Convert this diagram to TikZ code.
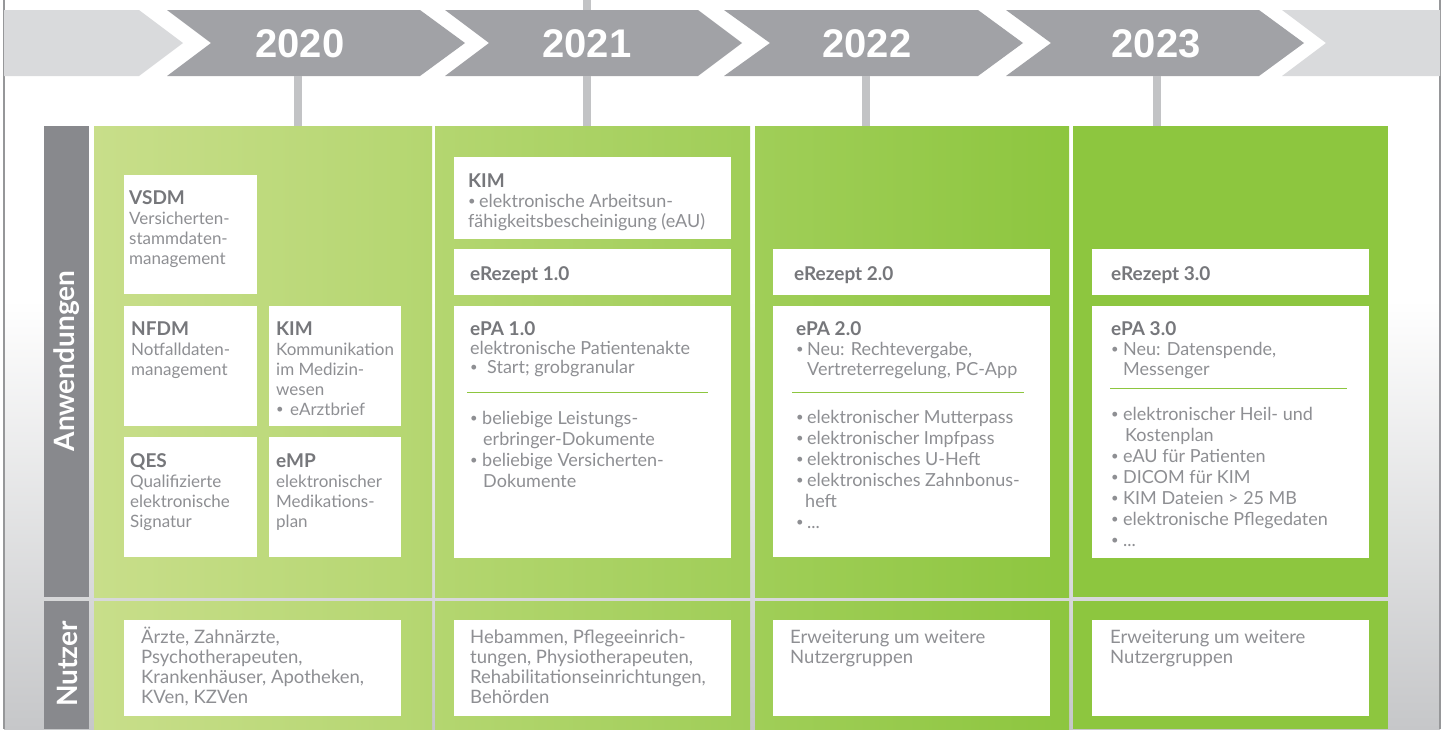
\documentclass[tikz,border=0pt]{standalone}
\usepackage{fontspec}
\setmainfont{Lato}
\newfontfamily\yearfont{Liberation Sans}
\definecolor{chev}{RGB}{161,162,166}
\definecolor{chevlight}{RGB}{217,218,220}
\definecolor{bargrey}{RGB}{136,137,141}
\definecolor{conngrey}{RGB}{194,195,197}
\definecolor{txtgrey}{RGB}{142,143,147}
\definecolor{titlegrey}{RGB}{118,119,123}
\definecolor{linegreen}{RGB}{141,198,63}
\definecolor{bggrey}{RGB}{198,199,201}
\definecolor{edgegrey}{RGB}{150,151,153}
\definecolor{gA}{RGB}{200,222,138}
\definecolor{gB}{RGB}{180,214,112}
\definecolor{gC}{RGB}{160,206,88}
\definecolor{gD}{RGB}{141,198,63}
\newcommand\mystrut{\rule{0pt}{18pt}}
\newcommand\boxtitle[1]{{\color{titlegrey}\fontsize{19}{20}\selectfont\bfseries #1}}
\newcommand\bul[1]{\makebox[#1][l]{\raisebox{1.3pt}{\fontsize{13}{13}\selectfont •}}}
\begin{document}
\begin{tikzpicture}[x=1pt,y=-1pt,
  chevron/.style={fill=chev,draw=none},
  lightchev/.style={fill=chevlight,draw=none},
  yeartxt/.style={font=\yearfont\bfseries\fontsize{40}{40}\selectfont,text=white,inner sep=0},
  cell/.style={fill=white,draw=none},
  txt/.style={anchor=north west,inner sep=0,align=left,text=txtgrey,font=\fontsize{18}{20}\selectfont},
  txtone/.style={txt,font=\fontsize{17}{20}\selectfont},
  txtwide/.style={txt,font=\fontsize{18}{21}\selectfont},
  txtmid/.style={txt,font=\fontsize{18}{19}\selectfont},
  nutz/.style={txt,font=\fontsize{18.5}{20}\selectfont},
  sidelbl/.style={rotate=90,text=white,font=\bfseries\fontsize{28}{28}\selectfont,inner sep=0},
  conn/.style={line width=8pt,draw=conngrey},
  sepline/.style={draw=linegreen,line width=1pt}]
\useasboundingbox (0,0) rectangle (1448,729);
% background
\fill[white] (0,0) rectangle (1448,729);
\fill[top color=white,bottom color=bggrey] (4,300) rectangle (1440,729);
\draw[edgegrey,line width=1.2pt] (4,0) -- (4,729);
\draw[edgegrey,line width=1.2pt] (1440,0) -- (1440,729);
% timeline chevrons
\fill[lightchev] (4,10) -- (139,10) -- (183,43) -- (139,76) -- (4,76) -- cycle;
\fill[chevron] (167,10) -- (420,10) -- (465,43) -- (420,76) -- (167,76) -- (211,43) -- cycle;
\fill[chevron] (445,10) -- (698,10) -- (742,43) -- (698,76) -- (445,76) -- (489,43) -- cycle;
\fill[chevron] (724,10) -- (978,10) -- (1023,43) -- (978,76) -- (724,76) -- (770,43) -- cycle;
\fill[chevron] (1006,10) -- (1259,10) -- (1304,43) -- (1259,76) -- (1006,76) -- (1051,43) -- cycle;
\fill[lightchev] (1282,10) -- (1440,10) -- (1440,76) -- (1282,76) -- (1326,43) -- cycle;
\node[yeartxt] (y2020) at (300,44) {2020};
\node[yeartxt] (y2021) at (587,44) {2021};
\node[yeartxt] (y2022) at (867,44) {2022};
\node[yeartxt] (y2023) at (1156,44) {2023};
% connectors
\coordinate (a2020) at (298,76); \coordinate (b2020) at (298,126);
\coordinate (a2021) at (587,76); \coordinate (b2021) at (587,126);
\coordinate (t2021) at (587,0);  \coordinate (u2021) at (587,10);
\coordinate (a2022) at (866,76); \coordinate (b2022) at (866,126);
\coordinate (a2023) at (1157,76); \coordinate (b2023) at (1157,126);
\draw[conn] (a2020) -- (b2020);
\draw[conn] (a2021) -- (b2021);
\draw[conn] (t2021) -- (u2021);
\draw[conn] (a2022) -- (b2022);
\draw[conn] (a2023) -- (b2023);
% side labels
\fill[bargrey] (44,126) rectangle (89,597);
\fill[bargrey] (44,601) rectangle (89,729);
\node[sidelbl] (lblA) at (67,361) {Anwendungen};
\node[sidelbl] (lblN) at (67,664) {Nutzer};
% columns
\fill[left color=gA,right color=gB] (94,126) rectangle (432,597);
\fill[left color=gB,right color=gC] (435,126) rectangle (750,597);
\fill[left color=gC,right color=gD] (755,126) rectangle (1069,597);
\fill[gD] (1073,126) rectangle (1388,597);
\fill[left color=gA,right color=gB] (94,601) rectangle (432,729);
\fill[left color=gB,right color=gC] (435,601) rectangle (750,729);
\fill[left color=gC,right color=gD] (755,601) rectangle (1069,729);
\fill[gD] (1073,601) rectangle (1388,729);
% column 1 cells
\fill[cell] (124,175) rectangle (257,294);
\fill[cell] (124,306) rectangle (257,426);
\fill[cell] (269,306) rectangle (401,426);
\fill[cell] (124,437) rectangle (257,557);
\fill[cell] (269,437) rectangle (401,557);
\node[txtone] (vsdm) at (129,186) {\mystrut\boxtitle{VSDM}\\Versicherten-\\stammdaten-\\management};
\node[txtone] (nfdm) at (131,317) {\mystrut\boxtitle{NFDM}\\Notfalldaten-\\management};
\node[txtone] (kimA) at (276,317) {\mystrut\boxtitle{KIM}\\Kommunikation\\im Medizin-\\wesen\\\bul{14pt}eArztbrief};
\node[txtone] (qes) at (130,449) {\mystrut\boxtitle{QES}\\Qualifizierte\\elektronische\\Signatur};
\node[txtone] (emp) at (276,449) {\mystrut\boxtitle{eMP}\\elektronischer\\Medikations-\\plan};
% column 2 cells
\fill[cell] (454,157) rectangle (731,239);
\fill[cell] (454,249) rectangle (731,295);
\fill[cell] (454,306) rectangle (731,558);
\node[txt] (kimB) at (468,169) {\mystrut\boxtitle{KIM}\\\bul{11pt}elektronische Arbeitsun-\\fähigkeitsbescheinigung (eAU)};
\node[txt] (erez1) at (470,262) {\mystrut\boxtitle{eRezept 1.0}};
\node[txtmid] (epa1) at (470,317) {\mystrut\boxtitle{ePA 1.0}\\elektronische Patientenakte\\\bul{17pt}Start; grobgranular};
\coordinate (s1a) at (467,392); \coordinate (s1b) at (708,392);
\draw[sepline] (s1a) -- (s1b);
\node[txtwide] (epa1x) at (470,406) {\mystrut\bul{12pt}beliebige Leistungs-\\\hspace*{13pt}erbringer-Dokumente\\\bul{12pt}beliebige Versicherten-\\\hspace*{13pt}Dokumente};
% column 3 cells
\fill[cell] (773,249) rectangle (1050,295);
\fill[cell] (773,306) rectangle (1050,557);
\node[txt] (erez2) at (794,262) {\mystrut\boxtitle{eRezept 2.0}};
\node[txt] (epa2) at (796,317) {\mystrut\boxtitle{ePA 2.0}\\\bul{11pt}Neu: Rechtevergabe,\\\hspace*{11pt}Vertreterregelung, PC-App};
\coordinate (s2a) at (792,392); \coordinate (s2b) at (1024,392);
\draw[sepline] (s2a) -- (s2b);
\node[txtwide] (epa2x) at (796,405) {\mystrut\bul{11pt}elektronischer Mutterpass\\\bul{11pt}elektronischer Impfpass\\\bul{11pt}elektronisches U-Heft\\\bul{11pt}elektronisches Zahnbonus-\\\hspace*{9pt}heft\\\bul{11pt}...};
% column 4 cells
\fill[cell] (1092,249) rectangle (1369,295);
\fill[cell] (1092,306) rectangle (1369,558);
\node[txt] (erez3) at (1111,262) {\mystrut\boxtitle{eRezept 3.0}};
\node[txt] (epa3) at (1111,317) {\mystrut\boxtitle{ePA 3.0}\\\bul{12pt}Neu: Datenspende,\\\hspace*{12pt}Messenger};
\coordinate (s3a) at (1110,388); \coordinate (s3b) at (1347,388);
\draw[sepline] (s3a) -- (s3b);
\node[txtwide] (epa3x) at (1111,402) {\mystrut\bul{12pt}elektronischer Heil- und\\\hspace*{14pt}Kostenplan\\\bul{12pt}eAU für Patienten\\\bul{12pt}DICOM für KIM\\\bul{12pt}KIM Dateien > 25 MB\\\bul{12pt}elektronische Pflegedaten\\\bul{12pt}...};
% users row
\fill[cell] (124,620) rectangle (401,716);
\fill[cell] (454,620) rectangle (731,716);
\fill[cell] (773,620) rectangle (1050,716);
\fill[cell] (1092,620) rectangle (1369,716);
\node[nutz] (nu1) at (141,625) {\mystrut Ärzte, Zahnärzte,\\Psychotherapeuten,\\Krankenhäuser, Apotheken,\\KVen, KZVen};
\node[nutz] (nu2) at (470,625) {\mystrut Hebammen, Pflegeeinrich-\\tungen, Physiotherapeuten,\\Rehabilitationseinrichtungen,\\Behörden};
\node[nutz] (nu3) at (790,625) {\mystrut Erweiterung um weitere\\Nutzergruppen};
\node[nutz] (nu4) at (1110,625) {\mystrut Erweiterung um weitere\\Nutzergruppen};
\end{tikzpicture}
\end{document}
